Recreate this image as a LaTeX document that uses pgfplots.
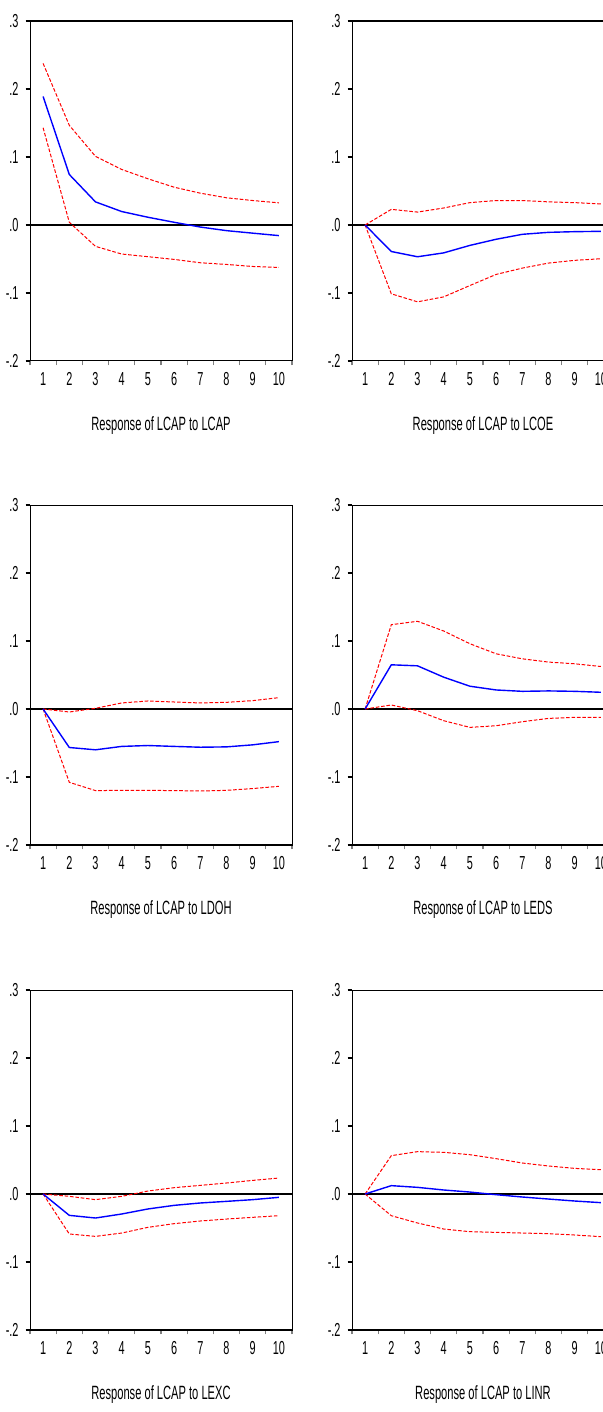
\documentclass[border=0pt]{standalone}
\usepackage{pgfplots}
\pgfplotsset{compat=1.18}
\usepackage{fontspec}
\setmainfont{Liberation Sans}[FakeStretch=0.58]

\pgfplotsset{
  irf/.style={
    scale only axis, width=131pt, height=170pt,
    anchor=north west,
    xmin=0.5, xmax=10.5, ymin=-0.2, ymax=0.3,
    xtick={0.5,1.5,2.5,3.5,4.5,5.5,6.5,7.5,8.5,9.5,10.5},
    xticklabels={1,2,3,4,5,6,7,8,9,10,{}},
    x tick label as interval,
    ytick={-0.2,-0.1,0,0.1,0.2,0.3},
    yticklabels={-.2,-.1,.0,.1,.2,.3},
    tick align=outside, tick pos=left,
    major tick length=2.2pt,
    axis line style={line width=0.5pt},
    x tick style={gray, line width=0.6pt},
    y tick style={black, line width=0.6pt},
    /pgf/number format/assume math mode=true,
    tick label style={font=\fontsize{9.4}{11}\selectfont},
    x label style={at={(axis description cs:0.5,0)}, anchor=center, yshift=-32.5pt, font=\fontsize{9.6}{11}\selectfont},
  },
  resp/.style={blue, line width=0.7pt},
  band/.style={red, line width=0.5pt, dash pattern=on 1.8pt off 0.9pt},
  zero/.style={black, line width=0.8pt},
}
\newcommand{\tbframe}{%
  \draw[line width=1.3pt] (rel axis cs:0,0) -- (rel axis cs:1,0);
  \draw[line width=1.3pt] (rel axis cs:0,1) -- (rel axis cs:1,1);
}

\begin{document}
\begin{tikzpicture}
\path[use as bounding box] (0,0) rectangle (301.5pt,-706pt);
\clip (0,0) rectangle (301.5pt,-706pt);

% Row 1 left: LCAP
\begin{axis}[irf, at={(15pt,-10.5pt)}, xlabel={Response of LCAP to LCAP}]
\addplot[zero] coordinates {(0.5,0) (10.5,0)};
\addplot[band] coordinates {(1,0.2376) (2,0.1466) (3,0.1009) (4,0.0817) (5,0.068) (6,0.0556) (7,0.0468) (8,0.040) (9,0.036) (10,0.0326)};
\addplot[band] coordinates {(1,0.143) (2,0.004) (3,-0.0314) (4,-0.0427) (5,-0.0466) (6,-0.0506) (7,-0.0555) (8,-0.058) (9,-0.061) (10,-0.0624)};
\addplot[resp] coordinates {(1,0.189) (2,0.0743) (3,0.034) (4,0.0198) (5,0.0114) (6,0.004) (7,-0.003) (8,-0.0083) (9,-0.012) (10,-0.0156)};
\tbframe
\end{axis}

% Row 1 right: LCOE
\begin{axis}[irf, at={(176pt,-10.5pt)}, xlabel={Response of LCAP to LCOE}]
\addplot[zero] coordinates {(0.5,0) (10.5,0)};
\addplot[band] coordinates {(1,0) (2,0.023) (3,0.019) (4,0.025) (5,0.0329) (6,0.036) (7,0.036) (8,0.034) (9,0.0329) (10,0.031)};
\addplot[band] coordinates {(1,0) (2,-0.1012) (3,-0.113) (4,-0.1057) (5,-0.089) (6,-0.0727) (7,-0.0634) (8,-0.056) (9,-0.052) (10,-0.0496)};
\addplot[resp] coordinates {(1,0) (2,-0.039) (3,-0.0467) (4,-0.041) (5,-0.030) (6,-0.021) (7,-0.0137) (8,-0.0108) (9,-0.0098) (10,-0.0093)};
\tbframe
\end{axis}

% Row 2 left: LDOH
\begin{axis}[irf, at={(15pt,-252.5pt)}, xlabel={Response of LCAP to LDOH}]
\addplot[zero] coordinates {(0.5,0) (10.5,0)};
\addplot[band] coordinates {(1,0) (2,-0.0044) (3,0.001) (4,0.0089) (5,0.0118) (6,0.0103) (7,0.0089) (8,0.0098) (9,0.0123) (10,0.0167)};
\addplot[band] coordinates {(1,0) (2,-0.1078) (3,-0.120) (4,-0.1196) (5,-0.1196) (6,-0.120) (7,-0.1206) (8,-0.1196) (9,-0.117) (10,-0.1137)};
\addplot[resp] coordinates {(1,0) (2,-0.0566) (3,-0.060) (4,-0.055) (5,-0.0537) (6,-0.055) (7,-0.0562) (8,-0.0557) (9,-0.0527) (10,-0.048)};
\tbframe
\end{axis}

% Row 2 right: LEDS
\begin{axis}[irf, at={(176pt,-252.5pt)}, xlabel={Response of LCAP to LEDS}]
\addplot[zero] coordinates {(0.5,0) (10.5,0)};
\addplot[band] coordinates {(1,0) (2,0.124) (3,0.129) (4,0.1147) (5,0.096) (6,0.0812) (7,0.0738) (8,0.069) (9,0.0665) (10,0.0625)};
\addplot[band] coordinates {(1,0) (2,0.0059) (3,-0.0025) (4,-0.0172) (5,-0.027) (6,-0.0246) (7,-0.0187) (8,-0.0138) (9,-0.0123) (10,-0.0123)};
\addplot[resp] coordinates {(1,0) (2,0.065) (3,0.0635) (4,0.0468) (5,0.0335) (6,0.028) (7,0.026) (8,0.0266) (9,0.026) (10,0.0246)};
\tbframe
\end{axis}

% Row 3 left: LEXC
\begin{axis}[irf, at={(15pt,-495pt)}, xlabel={Response of LCAP to LEXC}]
\addplot[zero] coordinates {(0.5,0) (10.5,0)};
\addplot[band] coordinates {(1,0) (2,-0.0034) (3,-0.0083) (4,-0.0034) (5,0.0044) (6,0.0093) (7,0.0127) (8,0.0162) (9,0.020) (10,0.0235)};
\addplot[band] coordinates {(1,0) (2,-0.0588) (3,-0.0623) (4,-0.0574) (5,-0.049) (6,-0.0436) (7,-0.0397) (8,-0.0368) (9,-0.0343) (10,-0.0319)};
\addplot[resp] coordinates {(1,0) (2,-0.0314) (3,-0.0353) (4,-0.0294) (5,-0.022) (6,-0.0167) (7,-0.0132) (8,-0.0108) (9,-0.0083) (10,-0.0049)};
\tbframe
\end{axis}

% Row 3 right: LINR
\begin{axis}[irf, at={(176pt,-495pt)}, xlabel={Response of LCAP to LINR}]
\addplot[zero] coordinates {(0.5,0) (10.5,0)};
\addplot[band] coordinates {(1,0) (2,0.0564) (3,0.0623) (4,0.0613) (5,0.0578) (6,0.052) (7,0.0456) (8,0.0412) (9,0.0377) (10,0.0358)};
\addplot[band] coordinates {(1,0) (2,-0.0319) (3,-0.0426) (4,-0.0515) (5,-0.0554) (6,-0.0564) (7,-0.0574) (8,-0.0583) (9,-0.0603) (10,-0.0627)};
\addplot[resp] coordinates {(1,0) (2,0.0123) (3,0.0098) (4,0.0059) (5,0.0029) (6,-0.001) (7,-0.0044) (8,-0.0074) (9,-0.0103) (10,-0.0127)};
\tbframe
\end{axis}
\end{tikzpicture}
\end{document}
